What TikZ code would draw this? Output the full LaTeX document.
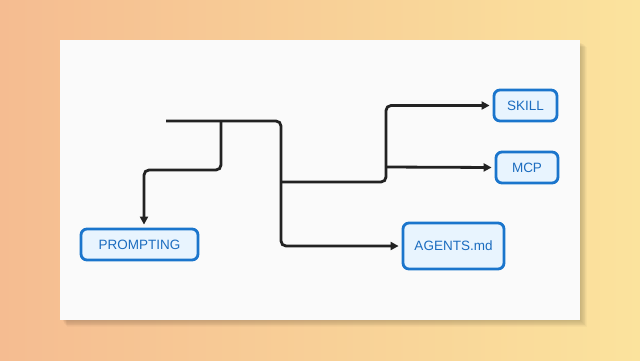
\documentclass[tikz,border=0pt]{standalone}
\usepackage{fontspec}
\setmainfont{Liberation Sans}
\usetikzlibrary{arrows.meta}
\definecolor{bgL}{HTML}{F5BC91}
\definecolor{bgR}{HTML}{FBE39D}
\definecolor{card}{HTML}{FAFAFA}
\definecolor{boxline}{HTML}{1A75CC}
\definecolor{boxfill}{HTML}{E8F4FE}
\definecolor{boxtext}{HTML}{1B6CBF}
\definecolor{wire}{HTML}{222222}
\tikzset{
  box/.style={draw=boxline, line width=2.8pt, fill=boxfill, rounded corners=6pt,
    text=boxtext, font=\fontsize{13.5}{16}\selectfont, inner sep=0pt, anchor=center},
  wire/.style={draw=wire, line width=2.8pt, rounded corners=5pt},
  arr/.style={wire, -{Triangle[length=8pt,width=8pt]}, shorten >=3pt},
}
\begin{document}
\begin{tikzpicture}[x=1pt,y=-1pt]
\useasboundingbox (0,0) rectangle (640,360);
\shade[left color=bgL, right color=bgR] (0,0) rectangle (640,360);
% card shadow
\foreach \i in {1,...,8}{
  \fill[black, opacity=0.025] (60+\i*0.6+2,40+\i*0.6+2) rectangle (580+\i*0.9,320+\i*0.9);
}
\fill[card] (60,40) rectangle (580,320);
% nodes
\node[box, minimum width=117pt, minimum height=31pt] (prompting) at (139.5,244.5) {PROMPTING};
\node[box, minimum width=63pt, minimum height=31pt] (skill) at (525.5,105.5) {SKILL};
\node[box, minimum width=62pt, minimum height=31pt] (mcp) at (527,167.5) {MCP};
\node[box, minimum width=101pt, minimum height=46pt] (agents) at (453.5,246) {AGENTS.md};
% junctions
\coordinate (start) at (166,121);
\coordinate (j1) at (221,121);
\coordinate (j1b) at (221,170);
\coordinate (pa) at (144,170);
\coordinate (jB) at (281,182);
\coordinate (jC) at (386,167);
% connectors
\draw[arr] (start) -| (jB) |- (agents.west);
\draw[arr] (j1) -- (j1b) -- (pa) -- (pa |- prompting.north);
\draw[arr] (jB) -| (jC) |- (skill.west);
\draw[arr] (jC) -- (mcp.west);
\end{tikzpicture}
\end{document}
